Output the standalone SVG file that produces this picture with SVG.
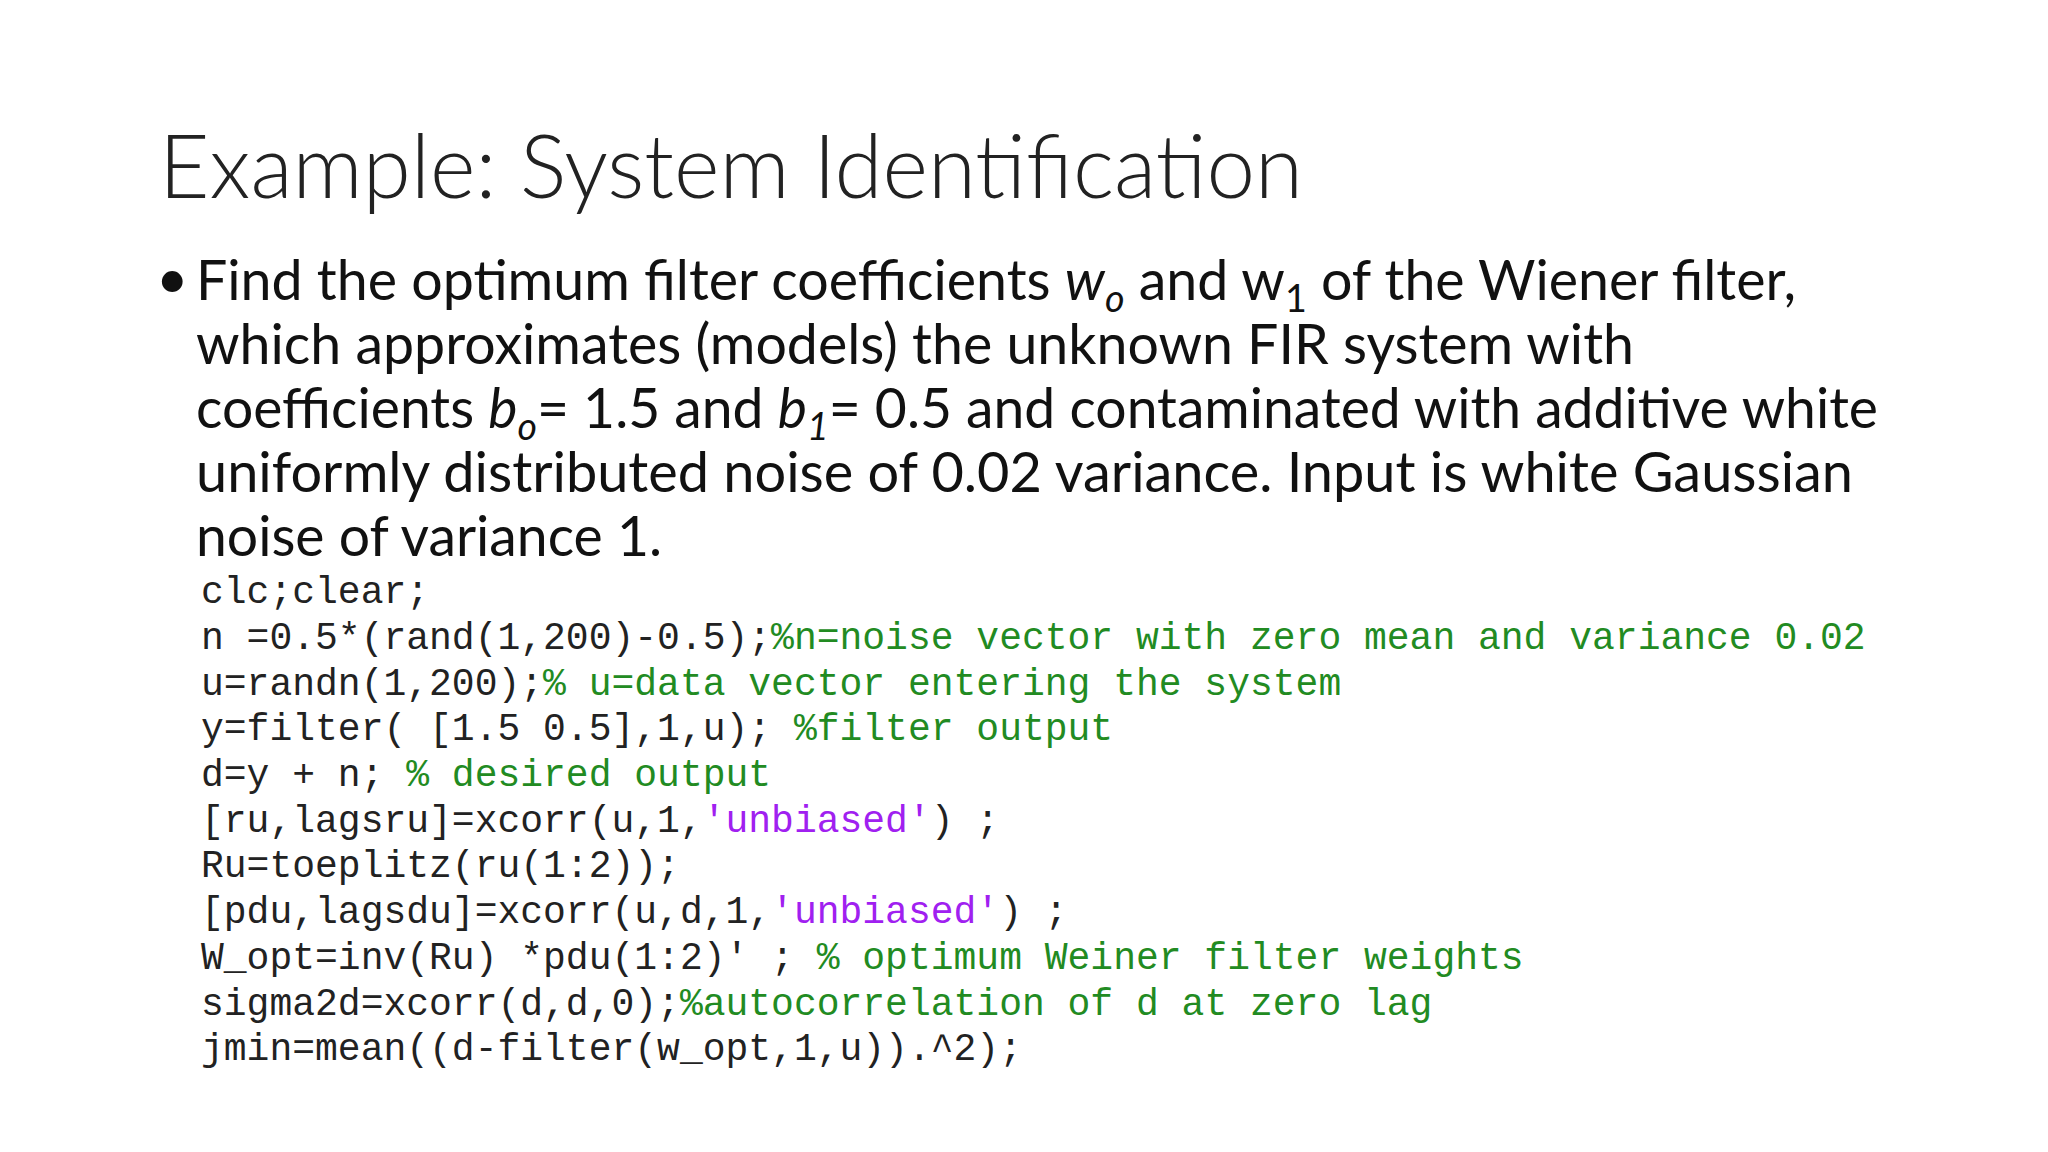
<svg xmlns="http://www.w3.org/2000/svg" width="2048" height="1152" viewBox="0 0 2048 1152">
<style>
.t{font-family:Lato,"Open Sans",sans-serif;font-weight:300;font-size:88px;fill:#222}
.b{font-family:Lato,"Open Sans",sans-serif;font-size:56px;fill:#111}
.c{font-family:"Liberation Mono",monospace;font-size:38px;fill:#222;white-space:pre}
.g{fill:#228B22}.p{fill:#A020F0}
.s{font-size:38px}
</style>
<rect width="2048" height="1152" fill="#fff"/>
<g id="title"><text class="t" x="159" y="198" textLength="1144" lengthAdjust="spacingAndGlyphs">Example: System Identification</text></g>
<g id="bullet">
<text class="b" x="156" y="298">•</text>
<text class="b" x="196" y="300" textLength="1600" lengthAdjust="spacingAndGlyphs">Find the optimum filter coefficients <tspan font-style="italic">w</tspan><tspan class="s" font-style="italic" dy="12">o</tspan><tspan dy="-12"> and w</tspan><tspan class="s" dy="12">1</tspan><tspan dy="-12"> of the Wiener filter,</tspan></text>
<text class="b" x="196" y="364" textLength="1438" lengthAdjust="spacingAndGlyphs">which approximates (models) the unknown FIR system with</text>
<text class="b" x="196" y="428" textLength="1682" lengthAdjust="spacingAndGlyphs">coefficients <tspan font-style="italic">b</tspan><tspan class="s" font-style="italic" dy="12">o</tspan><tspan dy="-12">= 1.5 and </tspan><tspan font-style="italic">b</tspan><tspan class="s" font-style="italic" dy="12">1</tspan><tspan dy="-12">= 0.5 and contaminated with additive white</tspan></text>
<text class="b" x="196" y="492" textLength="1657" lengthAdjust="spacingAndGlyphs">uniformly distributed noise of 0.02 variance.  Input is white Gaussian</text>
<text class="b" x="196" y="556" textLength="466" lengthAdjust="spacingAndGlyphs">noise of variance 1.</text>
</g>
<g id="code">
<text class="c" x="201" y="603">clc;clear;</text>
<text class="c" x="201" y="649">n =0.5*(rand(1,200)-0.5);<tspan class="g">%n=noise vector with zero mean and variance 0.02</tspan></text>
<text class="c" x="201" y="695">u=randn(1,200);<tspan class="g">% u=data vector entering the system</tspan></text>
<text class="c" x="201" y="740">y=filter( [1.5 0.5],1,u); <tspan class="g">%filter output</tspan></text>
<text class="c" x="201" y="786">d=y + n; <tspan class="g">% desired output</tspan></text>
<text class="c" x="201" y="832">[ru,lagsru]=xcorr(u,1,<tspan class="p">'unbiased'</tspan>) ;</text>
<text class="c" x="201" y="877">Ru=toeplitz(ru(1:2));</text>
<text class="c" x="201" y="923">[pdu,lagsdu]=xcorr(u,d,1,<tspan class="p">'unbiased'</tspan>) ;</text>
<text class="c" x="201" y="969">W_opt=inv(Ru) *pdu(1:2)' ; <tspan class="g">% optimum Weiner filter weights</tspan></text>
<text class="c" x="201" y="1015">sigma2d=xcorr(d,d,0);<tspan class="g">%autocorrelation of d at zero lag</tspan></text>
<text class="c" x="201" y="1060">jmin=mean((d-filter(w_opt,1,u)).^2);</text>
</g>
</svg>
